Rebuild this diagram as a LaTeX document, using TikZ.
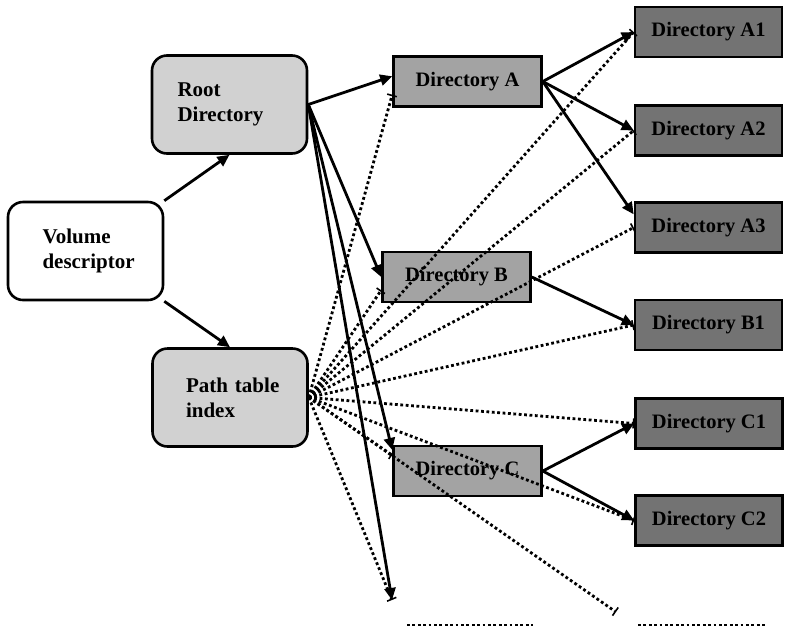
\documentclass[tikz,border=0pt]{standalone}
\usepackage{fontspec}
\setmainfont{Liberation Serif}
\usetikzlibrary{arrows.meta,calc}
\begin{document}
\begin{tikzpicture}[x=1pt,y=-1pt,
  lbox/.style={draw,line width=2.6pt,rounded corners=15pt,minimum width=155pt,minimum height=98pt,align=left,font=\fontsize{21}{25}\selectfont\bfseries},
  dbox/.style={draw,line width=2.6pt,fill=black!36,minimum width=148pt,minimum height=50pt,font=\fontsize{20.5}{22}\selectfont\bfseries},
  ddbox/.style={draw,line width=2.6pt,fill=black!55,minimum width=147pt,minimum height=50pt,font=\fontsize{20.5}{22}\selectfont\bfseries},
  solidarrow/.style={line width=2.8pt,-{Triangle[length=12pt,width=11pt]}},
  dotline/.style={line width=2.8pt,dash pattern=on 2.8pt off 2.6pt},
  dotarrow/.style={dotline,-{Bar[width=10pt,line width=1.6pt]}}]
\useasboundingbox (0,0) rectangle (786,630);
% nodes
\node[lbox,fill=white,text width=86pt] (vol) at (85.5,251) {Volume\\descriptor};
\node[lbox,fill=black!18,text width=104pt] (root) at (229.5,104.5) {Root\\Directory};
\node[lbox,fill=black!18,text width=88pt] (path) at (230,397.5) {\mbox{Path table}\\index};
\node[dbox] (A) at (467.5,81.5) {Directory A};
\node[dbox] (B) at (456.5,277) {Directory B};
\node[dbox] (C) at (467.5,471) {Directory C};
\node[ddbox] (A1) at (708.5,32) {Directory A1};
\node[ddbox] (A2) at (708.5,130.5) {Directory A2};
\node[ddbox] (A3) at (708.5,227.5) {Directory A3};
\node[ddbox] (B1) at (708.5,325) {Directory B1};
\node[ddbox] (C1) at (709,423.5) {Directory C1};
\node[ddbox] (C2) at (709,520.5) {Directory C2};
\coordinate (p1) at (392,600);
\coordinate (p2) at (616,612);
\coordinate (u1) at (407,625);
\coordinate (u2) at (533,625);
\coordinate (v1) at (638,625);
\coordinate (v2) at (765,625);
% dotted lines from path table index
\foreach \t in {A1,A2,A3,B1,C1,C2}
  \draw[dotarrow] (path.east) -- (\t.west);
\draw[dotarrow] (path.east) -- ($(A.north west)!0.75!(A.south west)$);
\draw[dotarrow] (path.east) -- ($(B.north west)!0.75!(B.south west)$);
\draw[dotarrow] (path.east) -- ($(C.north west)!0.2!(C.south west)$);
\draw[dotarrow] (path.east) -- (p1);
\draw[dotarrow] (path.east) -- (p2);
% solid arrows
\draw[solidarrow] (vol.north east) -- (root.south);
\draw[solidarrow] (vol.south east) -- (path.north);
\draw[solidarrow] (root.east) -- ($(A.north west)!0.4!(A.south west)$);
\draw[solidarrow] (root.east) -- (B.west);
\draw[solidarrow] (root.east) -- ($(C.north west)!0.1!(C.south west)$);
\draw[solidarrow] (root.east) -- (p1);
\draw[solidarrow] (A.east) -- (A1.west);
\draw[solidarrow] (A.east) -- (A2.west);
\draw[solidarrow] (A.east) -- ($(A3.north west)!0.25!(A3.south west)$);
\draw[solidarrow] (B.east) -- (B1.west);
\draw[solidarrow] (C.east) -- (C1.west);
\draw[solidarrow] (C.east) -- (C2.west);
% bottom placeholders
\draw[dotline] (u1) -- (u2);
\draw[dotline] (v1) -- (v2);
\end{tikzpicture}
\end{document}
